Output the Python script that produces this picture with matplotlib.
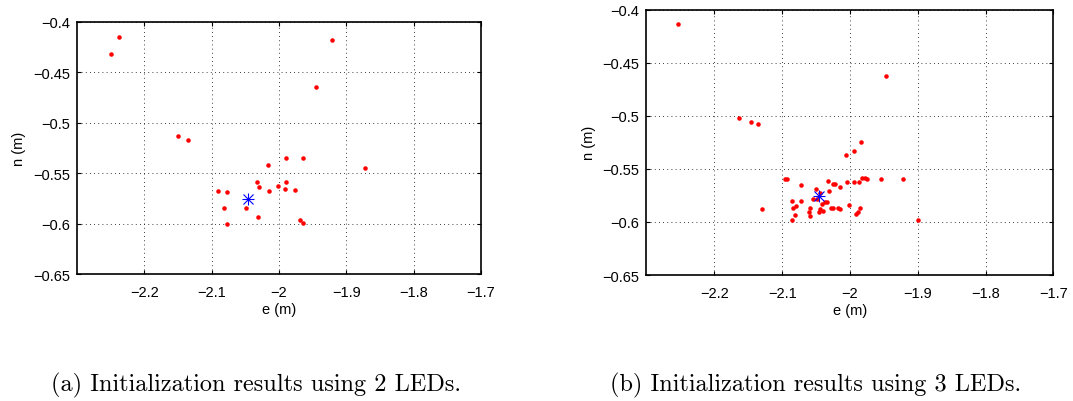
import matplotlib
matplotlib.use('Agg')
import matplotlib.pyplot as plt
from matplotlib.ticker import FuncFormatter

# true position (blue asterisk)
TRUE_E = [-2.0455]
TRUE_N = [-0.5752]

# (a) 2 LEDs
E_2LED = [-2.249, -2.237, -2.150, -2.1357, -1.921, -1.9455, -1.872, -2.017, -1.990,
          -1.964, -2.0327, -2.0302, -2.0144, -2.0015, -1.9891, -1.9916, -1.9757,
          -2.0906, -2.0767, -2.0822, -2.0495, -2.0312, -2.0777, -1.9693, -1.9649]
N_2LED = [-0.432, -0.415, -0.513, -0.5168, -0.4185, -0.465, -0.5446, -0.5422, -0.5347,
          -0.5347, -0.5584, -0.5637, -0.568, -0.5627, -0.5584, -0.5657, -0.5663,
          -0.5677, -0.569, -0.5848, -0.5842, -0.5934, -0.6007, -0.5964, -0.5993]

# (b) 3 LEDs
E_3LED = [-2.254, -1.9474, -2.1631, -2.146, -2.1356, -2.1297,
          -1.9835, -1.9943, -2.0066, -2.0961, -2.0926, -2.072, -2.0317, -2.0253,
          -2.0228, -2.014, -2.0042, -1.9943, -1.987, -1.983, -1.978, -1.9755,
          -1.954, -1.9216, -2.0499, -2.0445, -2.0489, -2.0543, -2.0312, -2.0725,
          -2.0862, -2.0789, -2.0838, -2.0813, -2.0857, -2.0592, -2.0597, -2.0587,
          -2.0464, -2.044, -2.0391, -2.041, -2.0361, -2.0332, -2.0287, -2.0243,
          -2.017, -2.0145, -2.0017, -1.9845, -1.9885, -1.9914, -1.900]
N_3LED = [-0.4138, -0.4625, -0.5024, -0.5062, -0.508, -0.5875,
          -0.525, -0.5327, -0.537, -0.5593, -0.5593, -0.5648, -0.5617, -0.5642,
          -0.5642, -0.5667, -0.562, -0.562, -0.5627, -0.5583, -0.5583, -0.5596,
          -0.5593, -0.5599, -0.5688, -0.5725, -0.5781, -0.5784, -0.5713, -0.5799,
          -0.5806, -0.5846, -0.5867, -0.5935, -0.5981, -0.5873, -0.591, -0.5944,
          -0.5907, -0.588, -0.5895, -0.5833, -0.5809, -0.5815, -0.5864, -0.5864,
          -0.5867, -0.588, -0.5836, -0.5864, -0.5904, -0.5923, -0.5978]

X_TICKS = [-2.2, -2.1, -2.0, -1.9, -1.8, -1.7]
Y_TICKS = [-0.65, -0.6, -0.55, -0.5, -0.45, -0.4]

CAPTIONS = ['(a) Initialization results using 2 LEDs.',
            '(b) Initialization results using 3 LEDs.']

plt.rcParams['font.family'] = ['Liberation Sans', 'DejaVu Sans']
plt.rcParams['axes.unicode_minus'] = True


def fmt(v, pos):
    return ('%g' % round(v, 4)).replace('-', '\u2212')


def draw_panel(ax, e, n):
    ax.plot(e, n, '.', color='red', markersize=4.5, zorder=3)
    # MATLAB style asterisk: plus + cross
    ax.plot(TRUE_E, TRUE_N, '+', color='blue', markersize=9, zorder=4,
            markeredgewidth=0.8)
    ax.plot(TRUE_E, TRUE_N, 'x', color='blue', markersize=6.5, zorder=4,
            markeredgewidth=0.8)
    ax.set_xlim(-2.3, -1.7)
    ax.set_ylim(-0.65, -0.4)
    ax.set_xticks(X_TICKS)
    ax.set_yticks(Y_TICKS)
    ax.xaxis.set_major_formatter(FuncFormatter(fmt))
    ax.yaxis.set_major_formatter(FuncFormatter(fmt))
    ax.tick_params(direction='in', top=True, right=True, length=3, width=0.8,
                   labelsize=10.5)
    ax.tick_params(axis='x', pad=8)
    ax.tick_params(axis='y', pad=5)
    ax.grid(True, linestyle=(0, (1, 4)), color='black', linewidth=0.6)
    for sp in ax.spines.values():
        sp.set_linewidth(1.2)
    ax.set_xlabel('e (m)', fontsize=10.5, labelpad=2)
    ax.set_ylabel('n (m)', fontsize=10.5, labelpad=5)


fig = plt.figure(figsize=(10.73, 4.02), dpi=100)
ax1 = fig.add_axes([0.0718, 0.3159, 0.3765, 0.6276])
ax2 = fig.add_axes([0.6025, 0.3134, 0.3793, 0.6600])
draw_panel(ax1, E_2LED, N_2LED)
draw_panel(ax2, E_3LED, N_3LED)

fig.text(0.239, 0.042, CAPTIONS[0], family=['cmr10', 'DejaVu Serif'], fontsize=17.5,
         ha='center', va='center')
fig.text(0.760, 0.042, CAPTIONS[1], family=['cmr10', 'DejaVu Serif'], fontsize=17.5,
         ha='center', va='center')

fig.savefig('out.png', dpi=100)
